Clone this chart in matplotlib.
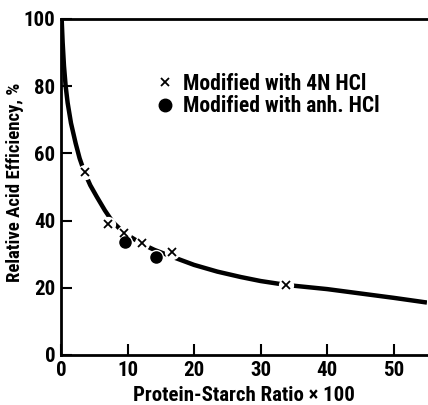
import matplotlib.pyplot as plt
from matplotlib.lines import Line2D

plt.rcParams['font.family'] = ['Roboto Condensed', 'Barlow Condensed', 'Archivo Narrow', 'DejaVu Sans']
plt.rcParams['font.weight'] = 'bold'

# fitted curve
curve_x = [0.1, 0.25, 0.45, 0.7, 1.0, 1.5, 2.2, 2.8, 3.5, 4.4, 5.4, 6.6, 7.8, 9.5,
           12.2, 14.0, 17.0, 20.0, 23.5, 27.0, 30.0, 34.0, 40.0, 45.0, 50.0, 55.0]
curve_y = [100, 93, 86, 80, 75, 69, 63, 58.5, 54.5, 50.5, 47, 43, 39.5, 36.3,
           33.0, 31.3, 29.0, 26.8, 24.8, 23.2, 22.0, 20.8, 19.6, 18.3, 17.0, 15.6]

# Modified with 4N HCl
hcl4_x = [3.6, 7.1, 9.5, 12.2, 16.7, 33.8]
hcl4_y = [54.5, 39.0, 36.3, 33.3, 30.6, 20.8]

# Modified with anh. HCl
anh_x = [9.6, 14.3]
anh_y = [33.6, 29.2]

fig = plt.figure(figsize=(4.28, 4.05), dpi=100)
ax = fig.add_axes([0.1425, 0.1235, 0.855, 0.83])

ax.plot(curve_x, curve_y, color='black', lw=3.2, solid_capstyle='butt',
        solid_joinstyle='round', zorder=2)
# white gaps in the line round the markers
ax.plot(hcl4_x, hcl4_y, 'o', ms=11, color='white', mec='none', zorder=3)
ax.plot(anh_x, anh_y, 'o', ms=11, color='white', mec='none', zorder=3)
ax.plot(hcl4_x, hcl4_y, 'x', ms=6, mew=1.3, color='black', zorder=4)
ax.plot(anh_x, anh_y, 'o', ms=8, color='black', zorder=4)

ax.set_xlim(0, 55)
ax.set_ylim(0, 100)
ax.set_xticks([0, 10, 20, 30, 40, 50])
ax.set_yticks([0, 20, 40, 60, 80, 100])
ax.tick_params(direction='in', length=8, width=1.5, labelsize=15, pad=4)
for s in ['left', 'bottom', 'top']:
    ax.spines[s].set_linewidth(2)
ax.spines['right'].set_visible(False)

ax.set_xlabel('Protein-Starch Ratio × 100', fontsize=15, fontweight='bold', labelpad=5)
ax.set_ylabel('Relative Acid Efficiency, %', fontsize=13.5, fontweight='bold')
ax.yaxis.set_label_coords(-0.1, 0.515)

handles = [Line2D([], [], ls='none', marker='x', ms=6, mew=1.3, color='black'),
           Line2D([], [], ls='none', marker='o', ms=9, color='black')]
ax.legend(handles, ['Modified with 4N HCl', 'Modified with anh. HCl'],
          loc='upper left', bbox_to_anchor=(0.236, 0.865), frameon=False,
          prop={'size': 15.5, 'weight': 'bold'}, handlelength=0.8,
          handletextpad=0.45, labelspacing=0.02, borderaxespad=0)

fig.savefig('out.png', dpi=100)
